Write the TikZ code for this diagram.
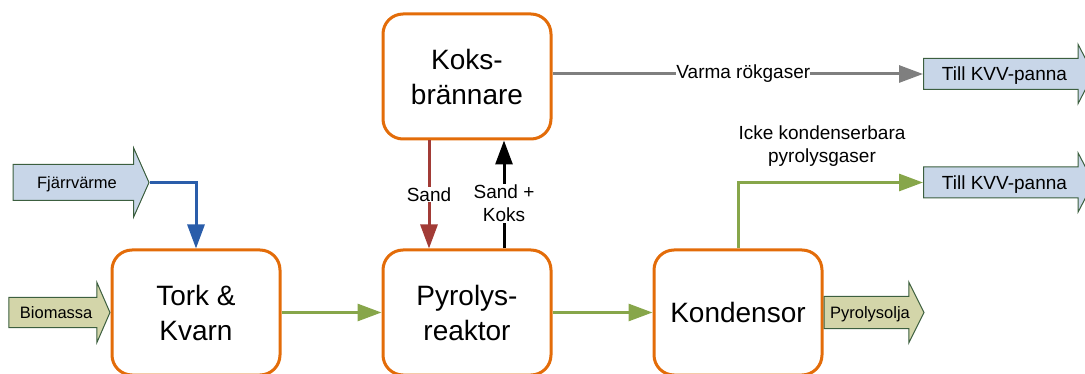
\documentclass[tikz,border=0pt]{standalone}
\usepackage{fontspec}
\setmainfont{Liberation Sans}
\usetikzlibrary{shapes.arrows, arrows.meta}

\definecolor{boxorange}{HTML}{E36C09}
\definecolor{flowgreen}{HTML}{87A64A}
\definecolor{heatblue}{HTML}{2A5DAA}
\definecolor{sandred}{HTML}{A23B36}
\definecolor{smokegray}{HTML}{7F7F7F}
\definecolor{bluefill}{HTML}{C8D6E8}
\definecolor{khakifill}{HTML}{D3D5A9}
\definecolor{arrowedge}{HTML}{3C5F3F}

\tikzset{
  unit/.style={draw=boxorange, line width=3pt, rounded corners=20pt, fill=white,
    minimum width=168pt, minimum height=125pt, align=center,
    font=\fontsize{28}{35}\selectfont},
  flow/.style={line width=3pt, -{Triangle[length=24pt,width=17pt]}},
  tag/.style={fill=white, inner sep=1pt, align=center, font=\fontsize{19}{23}\selectfont},
  inarrow/.style={single arrow, draw=arrowedge, line width=1pt, inner sep=0pt,
    font=\fontsize{16.5}{20}\selectfont},
  outarrow/.style={single arrow, draw=arrowedge, line width=1pt, inner sep=0pt,
    fill=bluefill, minimum height=170pt, single arrow head extend=14pt,
    single arrow tip angle=125, text height=22pt, text depth=8pt,
    font=\fontsize{19}{23}\selectfont}
}

\begin{document}
\begin{tikzpicture}[x=1pt, y=-1pt]
  \useasboundingbox (0,0) rectangle (1085,374);
  \clip (0,0) rectangle (1085,374);

  % Process units
  \node[unit] (koks) at (467,76.5) {Koks-\\brännare};
  \node[unit] (tork) at (196,312.5) {Tork \&\\Kvarn};
  \node[unit] (pyro) at (467,312.5) {Pyrolys-\\reaktor};
  \node[unit] (kond) at (738,312.5) {Kondensor};

  % Inflows and outflows
  \node[inarrow, fill=bluefill, minimum height=136pt, single arrow head extend=16.5pt,
    single arrow tip angle=132, text height=23.5pt, text depth=11.5pt]
    (fjarr) at (77,182.5) {Fjärrvärme};
  \node[inarrow, fill=khakifill, minimum height=101pt, single arrow head extend=15pt,
    single arrow tip angle=133, text height=20.5pt, text depth=8.5pt, anchor=tip]
    (bio) at (tork.west) {Biomassa};
  \node[inarrow, fill=khakifill, minimum height=100pt, single arrow head extend=14.5pt,
    single arrow tip angle=127, text height=21.5pt, text depth=9.5pt, anchor=tail]
    (olja) at (kond.east) {Pyrolysolja};
  \node[outarrow, anchor=tail] (kvvA) at (923,74) {Till KVV-panna};
  \node[outarrow, anchor=tail] (kvvB) at (923,182.5) {Till KVV-panna};

  % Flows between units
  \draw[flow, draw=flowgreen] (tork) -- (pyro);
  \draw[flow, draw=flowgreen] (pyro) -- (kond);
  \draw[flow, draw=heatblue] (fjarr.tip) -| (tork.north);
  \draw[flow, draw=smokegray] (kvvA.tail -| koks.east) -- node[tag, pos=0.515, inner xsep=0pt] {Varma rökgaser} (kvvA.tail);
  \draw[flow, draw=flowgreen] (kond.north) |- node[tag, pos=0.727, above=14pt, fill=none] {Icke kondenserbara\\pyrolysgaser} (kvvB.tail);
  \draw[flow, draw=sandred] ([xshift=-38pt]koks.south) -- node[tag] {Sand} ([xshift=-38pt]pyro.north);
  \draw[flow, draw=black] ([xshift=37pt]pyro.north) -- node[tag, pos=0.42] {Sand +\\Koks} ([xshift=37pt]koks.south);
\end{tikzpicture}
\end{document}
